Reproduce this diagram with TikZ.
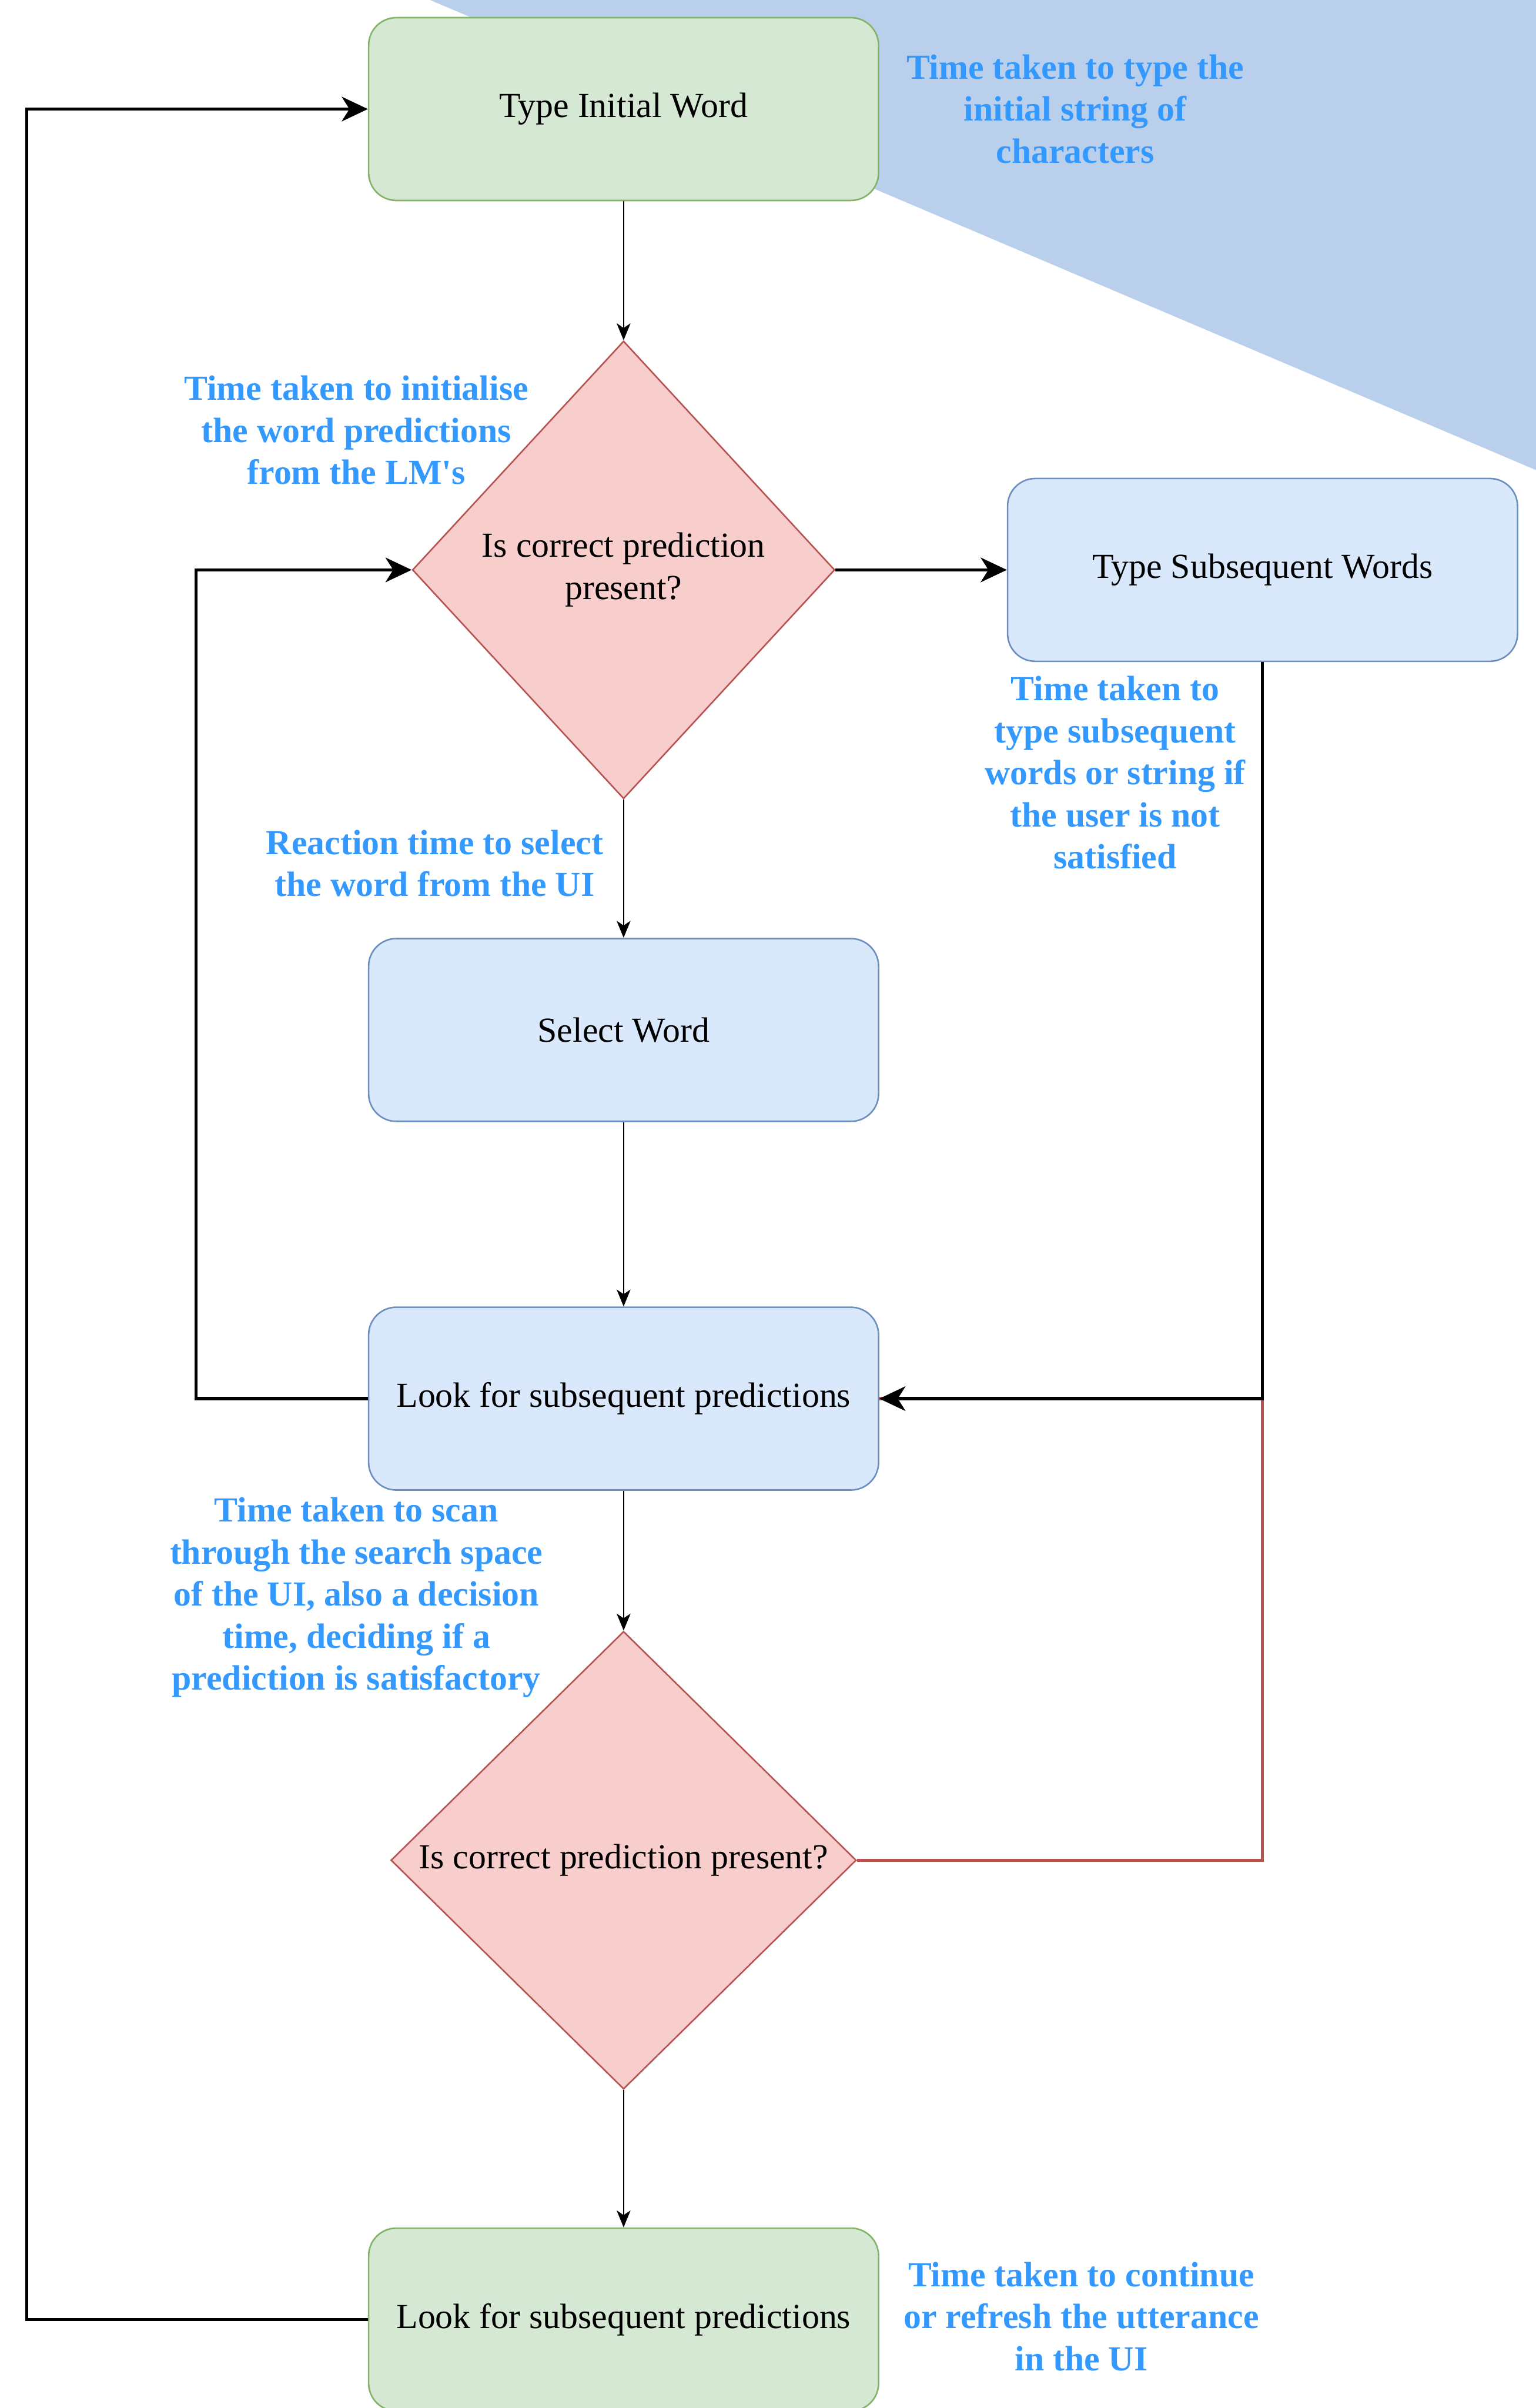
\documentclass[tikz,border=0pt]{standalone}
\usepackage{fontspec}
\setmainfont{Liberation Serif}
\usepackage{tikz}
\usetikzlibrary{shapes.geometric,arrows.meta}
\definecolor{gfill}{HTML}{D5E8D4}
\definecolor{gline}{HTML}{82B366}
\definecolor{bfill}{HTML}{DAE8FC}
\definecolor{bline}{HTML}{6C8EBF}
\definecolor{rfill}{HTML}{F8CECC}
\definecolor{rline}{HTML}{B85450}
\definecolor{notecol}{HTML}{3399FF}
\definecolor{tricol}{RGB}{185,207,236}

\begin{document}
\begin{tikzpicture}[x=1pt, y=-1pt,
    every node/.style={font=\fontsize{22.9}{27.4}\selectfont},
    procbox/.style={rectangle, rounded corners=18pt, minimum width=332pt, minimum height=119pt, line width=1pt, inner sep=0pt},
    greenbox/.style={procbox, draw=gline, fill=gfill},
    bluebox/.style={procbox, draw=bline, fill=bfill},
    decision/.style={diamond, aspect=1, inner sep=0pt, line width=1pt, draw=rline, fill=rfill, align=center},
    note/.style={text=notecol, align=center, font=\fontsize{22.9}{27.4}\selectfont\bfseries},
    thinarr/.style={line width=1pt, -{Stealth[length=11pt, width=9pt, inset=3pt]}},
    thickarr/.style={line width=2pt, -{Stealth[length=17pt, width=16pt, inset=5pt]}},
    redline/.style={line width=2pt, draw=rline}]
  \useasboundingbox (0,0) rectangle (1000,1567.6);
  \fill[tricol] (280,0) -- (1000,0) -- (1000,306) -- cycle;

  \node[name=tiw, greenbox] at (406,71) {Type Initial Word};
  \node[name=dec1, decision, minimum width=275pt, minimum height=298pt] at (406,371) {Is correct prediction\\present?};
  \node[name=tsw, bluebox] at (822,371) {Type Subsequent Words};
  \node[name=selw, bluebox] at (406,670.5) {Select Word};
  \node[name=lfb, bluebox] at (406,910.5) {Look for subsequent predictions};
  \node[name=dec2, decision, minimum width=303pt, minimum height=298pt] at (406,1211) {Is correct prediction present?};
  \node[name=lfg, greenbox] at (406,1510) {Look for subsequent predictions};

  \node[name=n1, note] at (700,71) {Time taken to type the\\initial string of\\characters};
  \node[name=n2, note] at (232,280) {Time taken to initialise\\the word predictions\\from the LM\textquotesingle s};
  \node[name=n3, note] at (726,503) {Time taken to\\type subsequent\\words or string if\\the user is not\\satisfied};
  \node[name=n4, note] at (283,562) {Reaction time to select\\the word from the UI};
  \node[name=n5, note] at (232,1040) {Time taken to scan\\through the search space\\of the UI, also a decision\\time, deciding if a\\prediction is satisfactory};
  \node[name=n6, note] at (704,1508) {Time taken to continue\\or refresh the utterance\\in the UI};

  \draw[thinarr] (tiw) -- (dec1);
  \draw[thickarr] (dec1.east) -- (tsw.west);
  \draw[thinarr] (dec1) -- (selw);
  \draw[thinarr] (selw) -- (lfb);
  \draw[thickarr] (lfb.west) -- ++(-112,0) |- (dec1.west);
  \draw[redline] (dec2.east) -| (tsw.south |- lfb.east) -- (lfb.east);
  \draw[thickarr] (tsw.south) |- (lfb.east);
  \draw[thinarr] (lfb) -- (dec2);
  \draw[thinarr] (dec2) -- (lfg);
  \draw[thickarr] (lfg.west) -- ++(-222,0) |- (tiw.west);
\end{tikzpicture}
\end{document}
